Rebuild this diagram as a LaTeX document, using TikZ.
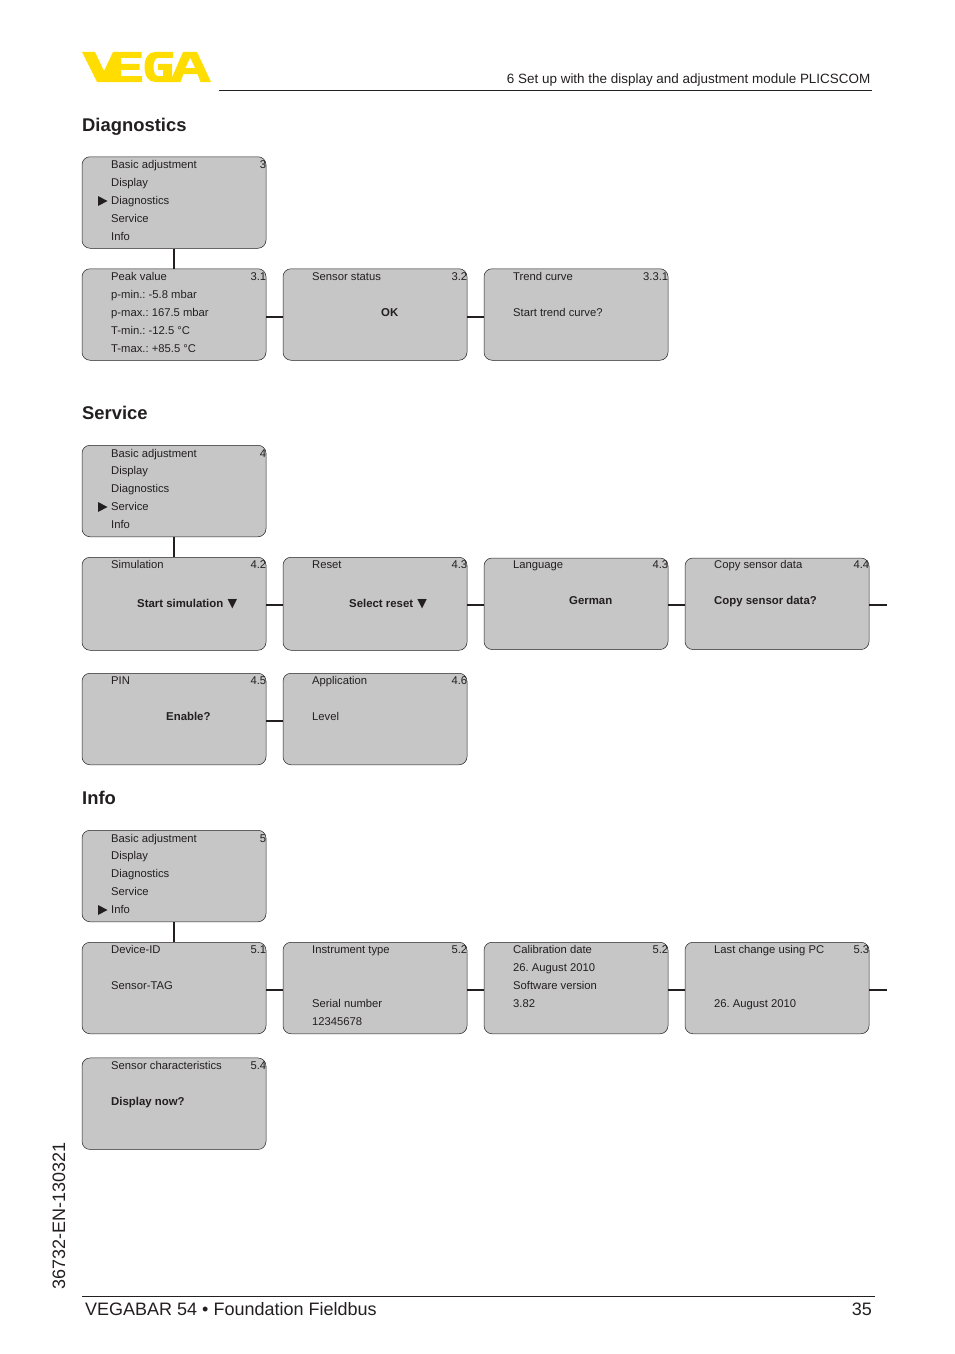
\documentclass[tikz,border=0pt]{standalone}
\usepackage{fontspec}
\setmainfont{Liberation Sans}
\newfontfamily\symfont{DejaVu Sans}
\usetikzlibrary{positioning, calc}
\definecolor{boxgray}{HTML}{C6C6C6}
\definecolor{vegayellow}{HTML}{FFDD00}
\definecolor{inkdark}{HTML}{231F20}
\frenchspacing
\tikzset{
    menubox/.style={draw=inkdark, line width=0.5pt, fill=boxgray, rounded corners=8pt, minimum width=184pt, minimum height=91.5pt, inner sep=0pt},
    menutext/.style={anchor=base west, font=\fontsize{11.25}{12}\selectfont, text=inkdark, inner sep=0pt},
    boldtext/.style={menutext, font=\fontsize{11.4}{12}\selectfont\bfseries},
    numtext/.style={menutext, anchor=base east, xshift=-0.6pt},
    headtext/.style={anchor=base west, font=\fontsize{18.4}{20}\selectfont\bfseries, text=inkdark, inner sep=0pt},
    pagetext/.style={anchor=base west, font=\fontsize{18}{20}\selectfont, text=inkdark, inner sep=0pt},
    link/.style={draw=inkdark, line width=1.6pt},
    pointer/.style={fill=inkdark, draw=none},
}
\newcommand{\downmark}{\hspace{1pt}{\symfont\fontsize{12.5}{12}\selectfont▼}}
\begin{document}
\begin{tikzpicture}[x=1pt, y=-1pt, node distance=16.5pt]
    \useasboundingbox (0,0) rectangle (954,1354);
    % logo
    \fill[vegayellow] (82,52) -- (95,52) -- (104,71) -- (113,52) -- (141.5,52) -- (141.5,58) -- (121,58) -- (121,64) -- (139.5,64) -- (139.5,70) -- (121,70) -- (121,76) -- (142,76) -- (142,82) -- (97,82) -- cycle;
    \fill[vegayellow] (173,52) -- (155,52) .. controls (148,52) and (144.5,59) .. (144.5,67) .. controls (144.5,75) and (148,82) .. (155,82) -- (172,82) -- (172,64) -- (158,64) -- (158,70) -- (163,70) -- (163,76) -- (158,76) .. controls (155,76) and (153.5,72) .. (153.5,67) .. controls (153.5,62) and (155,58) .. (158,58) -- (173,58) -- cycle;
    \fill[vegayellow] (170,82) -- (183,52) -- (197,52) -- (211,82) -- (200.5,82) -- (197.5,74) -- (183.5,74) -- (180.5,82) -- cycle;
    \fill[white] (185.5,68) -- (195,68) -- (190.2,58) -- cycle;
    \node[anchor=base east, inner sep=0pt, font=\fontsize{13.45}{16}\selectfont, text=inkdark] (chapter) at (870.5,83) {6 Set up with the display and adjustment module PLICSCOM};
    \coordinate (ruleA) at (219,90.5);
    \coordinate (ruleB) at (872,90.5);
    \draw[inkdark, line width=0.8pt] (ruleA) -- (ruleB);

    % Diagnostics
    \node[headtext] (headdiag) at (82,131) {Diagnostics};
    \node[menubox] (d0) at (174,202.5) {};
    \node[menubox, below=20pt of d0] (d1) {};
    \node[menubox, right=of d1] (d2) {};
    \node[menubox, right=of d2] (d3) {};
    \coordinate (rowD) at (0,317);
    \draw[link] (d0) -- (d1);
    \draw[link] (d1.east |- rowD) -- (d2.west |- rowD);
    \draw[link] (d2.east |- rowD) -- (d3.west |- rowD);
    \foreach \y/\t in {168/Basic adjustment, 186/Display, 204/Diagnostics, 222/Service, 240/Info}
        \node[menutext] at (111,\y) {\t};
    \fill[pointer] (98,196) -- (107.5,201) -- (98,206) -- cycle;
    \node[numtext] at (267,168) {3};
    \foreach \y/\t in {280/Peak value, 298/p-min.: -5.8 mbar, 316/p-max.: 167.5 mbar, 334/T-min.: -12.5 °C, 352/T-max.: +85.5 °C}
        \node[menutext] at (111,\y) {\t};
    \node[numtext] at (267,280) {3.1};
    \node[menutext] at (312,280) {Sensor status};
    \node[numtext] at (468,280) {3.2};
    \node[boldtext] at (381,316) {OK};
    \node[menutext] at (513,280) {Trend curve};
    \node[numtext] at (669,280) {3.3.1};
    \node[menutext] at (513,316) {Start trend curve?};

    % Service
    \node[headtext] (headserv) at (82,419) {Service};
    \node[menubox] (s0) at (174,491) {};
    \node[menubox, minimum height=93pt, below=20pt of s0] (s1) {};
    \node[menubox, minimum height=93pt, right=of s1] (s2) {};
    \node[menubox, right=of s2] (s3) {};
    \node[menubox, right=of s3] (s4) {};
    \node[menubox, below=22.5pt of s1] (s5) {};
    \node[menubox, right=of s5] (s6) {};
    \coordinate (rowS) at (0,605);
    \coordinate (rowP) at (0,721);
    \coordinate (s4end) at (887,605);
    \draw[link] (s0) -- (s1);
    \draw[link] (s1.east |- rowS) -- (s2.west |- rowS);
    \draw[link] (s2.east |- rowS) -- (s3.west |- rowS);
    \draw[link] (s3.east |- rowS) -- (s4.west |- rowS);
    \draw[link] (s4.east |- rowS) -- (s4end);
    \draw[link] (s5.east |- rowP) -- (s6.west |- rowP);
    \foreach \y/\t in {457/Basic adjustment, 474/Display, 492/Diagnostics, 510/Service, 528/Info}
        \node[menutext] at (111,\y) {\t};
    \fill[pointer] (98,502) -- (107.5,507) -- (98,512) -- cycle;
    \node[numtext] at (267,457) {4};
    \node[menutext] at (111,568) {Simulation};
    \node[numtext] at (267,568) {4.2};
    \node[boldtext] at (137,607) {Start simulation \downmark};
    \node[menutext] at (312,568) {Reset};
    \node[numtext] at (468,568) {4.3};
    \node[boldtext] at (349,607) {Select reset \downmark};
    \node[menutext] at (513,568) {Language};
    \node[numtext] at (669,568) {4.3};
    \node[boldtext] at (569,604) {German};
    \node[menutext] at (714,568) {Copy sensor data};
    \node[numtext] at (870,568) {4.4};
    \node[boldtext] at (714,604) {Copy sensor data?};
    \node[menutext] at (111,684) {PIN};
    \node[numtext] at (267,684) {4.5};
    \node[boldtext] at (166,720) {Enable?};
    \node[menutext] at (312,684) {Application};
    \node[numtext] at (468,684) {4.6};
    \node[menutext] at (312,720) {Level};

    % Info
    \node[headtext] (headinfo) at (82,804) {Info};
    \node[menubox] (i0) at (174,876) {};
    \node[menubox, below=20pt of i0] (i1) {};
    \node[menubox, right=of i1] (i2) {};
    \node[menubox, right=of i2] (i3) {};
    \node[menubox, right=of i3] (i4) {};
    \node[menubox, below=23.7pt of i1] (i5) {};
    \coordinate (rowI) at (0,990);
    \coordinate (i4end) at (887,990);
    \draw[link] (i0) -- (i1);
    \draw[link] (i1.east |- rowI) -- (i2.west |- rowI);
    \draw[link] (i2.east |- rowI) -- (i3.west |- rowI);
    \draw[link] (i3.east |- rowI) -- (i4.west |- rowI);
    \draw[link] (i4.east |- rowI) -- (i4end);
    \foreach \y/\t in {842/Basic adjustment, 859/Display, 877/Diagnostics, 895/Service, 913/Info}
        \node[menutext] at (111,\y) {\t};
    \fill[pointer] (98,905) -- (107.5,910) -- (98,915) -- cycle;
    \node[numtext] at (267,842) {5};
    \node[menutext] at (111,953) {Device-ID};
    \node[numtext] at (267,953) {5.1};
    \node[menutext] at (111,989) {Sensor-TAG};
    \foreach \y/\t in {953/Instrument type, 1007/Serial number, 1025/12345678}
        \node[menutext] at (312,\y) {\t};
    \node[numtext] at (468,953) {5.2};
    \foreach \y/\t in {953/Calibration date, 971/26. August 2010, 989/Software version, 1007/3.82}
        \node[menutext] at (513,\y) {\t};
    \node[numtext] at (669,953) {5.2};
    \node[menutext] at (714,953) {Last change using PC};
    \node[numtext] at (870,953) {5.3};
    \node[menutext] at (714,1007) {26. August 2010};
    \node[menutext] at (111,1069) {Sensor characteristics};
    \node[numtext] at (267,1069) {5.4};
    \node[boldtext] at (111,1105) {Display now?};

    % footer
    \node[pagetext, rotate=90] (docno) at (65,1290) {36732-EN-130321};
    \coordinate (footA) at (82,1296.5);
    \coordinate (footB) at (875,1296.5);
    \draw[inkdark, line width=0.8pt] (footA) -- (footB);
    \node[pagetext] (product) at (85,1315) {VEGABAR 54 • Foundation Fieldbus};
    \node[pagetext, anchor=base east] (pageno) at (872,1315) {35};
\end{tikzpicture}
\end{document}
